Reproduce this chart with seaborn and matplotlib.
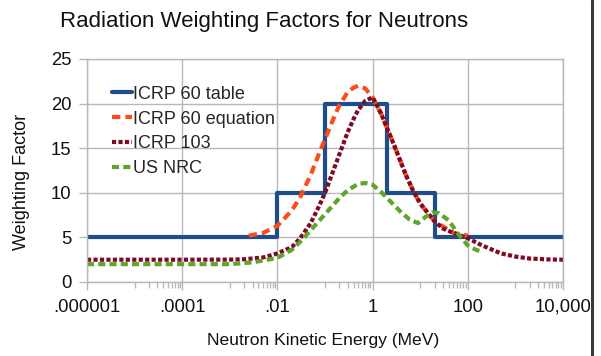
import numpy as np
import pandas as pd
import matplotlib
matplotlib.use("Agg")
import matplotlib.pyplot as plt
import seaborn as sns
from matplotlib.lines import Line2D
from matplotlib.patches import Rectangle
from matplotlib.ticker import NullFormatter

# ---------------- data ----------------
series_names = ["ICRP 60 table", "ICRP 60 equation", "ICRP 103", "US NRC"]

icrp60_table_E = [1e-6, 0.01, 0.01, 0.1, 0.1, 2, 2, 20, 20, 1e4]
icrp60_table_w = [5, 5, 10, 10, 20, 20, 10, 10, 5, 5]

icrp60_eq_E = [2.5e-3, 5e-3, 0.01, 0.02, 0.03, 0.05, 0.075, 0.1, 0.15,
               0.2, 0.3, 0.4, 0.5, 0.7, 1, 1.5, 2, 3, 5, 7, 10, 20, 50, 100]
icrp60_eq_w = [5.2, 5.5, 6.3, 8.0, 9.5, 12.0, 14.4, 16.0, 18.3,
               19.8, 21.3, 21.8, 22.0, 21.7, 20.7, 18.9, 17.3, 15.0, 12.0, 10.3, 8.8, 6.8, 5.5, 5.2]

icrp103_E = [1e-6, 1e-4, 1e-3, 2e-3, 5e-3, 0.01, 0.02, 0.03, 0.05, 0.075, 0.1, 0.15, 0.2, 0.3,
             0.4, 0.5, 0.7, 1, 1.5, 2, 3, 5, 7, 10, 20, 30, 50, 100, 200, 500, 1000, 2000, 5000, 1e4]
icrp103_w = [2.5, 2.5, 2.51, 2.55, 2.75, 3.2, 3.9, 4.9, 6.6, 8.5, 10.0, 12.5, 14.3, 16.8,
             18.3, 19.3, 20.3, 20.7, 18.9, 17.3, 15.0, 12.0, 10.3, 8.8, 6.8, 6.0, 5.5, 4.9, 4.1, 3.2, 2.85, 2.63, 2.53, 2.5]

nrc_E = [1e-6, 1e-5, 1e-4, 1e-3, 3e-3, 0.01, 0.02, 0.03, 0.05, 0.1, 0.2, 0.3, 0.5, 0.7,
         1.0, 1.5, 2.5, 4, 6, 9, 13, 18, 25, 40, 60, 100, 150, 200]
nrc_w = [2.0, 2.0, 2.0, 2.0, 2.2, 2.7, 3.6, 4.5, 5.8, 7.6, 9.4, 10.3, 11.0, 11.1,
         10.9, 10.1, 8.9, 7.8, 7.0, 6.6, 7.3, 7.8, 7.7, 6.9, 5.5, 4.1, 3.6, 3.4]

x_tick_values = [1e-6, 1e-4, 1e-2, 1, 100, 1e4]
x_tick_labels = [".000001", ".0001", ".01", "1", "100", "10,000"]
y_tick_values = [0, 5, 10, 15, 20, 25]

title_text = "Radiation Weighting Factors for Neutrons"
x_label = "Neutron Kinetic Energy (MeV)"
y_label = "Weighting Factor"

# ---------------- styling ----------------
colors = {"ICRP 60 table": "#1d4d8c", "ICRP 60 equation": "#ff4a1a",
          "ICRP 103": "#7e0a24", "US NRC": "#5fa52a"}
dash_styles = {"ICRP 60 table": "", "ICRP 60 equation": (2.0, 1.2),
               "ICRP 103": (1.0, 0.55), "US NRC": (1.7, 1.0)}

frames = []
for name, E, w in [(series_names[0], icrp60_table_E, icrp60_table_w),
                   (series_names[1], icrp60_eq_E, icrp60_eq_w),
                   (series_names[2], icrp103_E, icrp103_w),
                   (series_names[3], nrc_E, nrc_w)]:
    frames.append(pd.DataFrame({"E": E, "w": w, "series": name}))
df = pd.concat(frames, ignore_index=True)

sns.set_theme(style="white")
plt.rcParams["font.family"] = ["Liberation Sans", "DejaVu Sans"]

W, H = 601, 356
fig = plt.figure(figsize=(W / 100, H / 100), dpi=100)
ax = fig.add_axes([87 / W, (H - 282) / H, 476 / W, 223 / H])

grid_c = "#b8b8b8"
sns.lineplot(data=df, x="E", y="w", hue="series", style="series",
             hue_order=series_names, style_order=series_names,
             palette=colors, dashes=dash_styles, sort=False, estimator=None,
             linewidth=3.0, legend=False, ax=ax)

ax.set_xscale("log")
ax.set_xlim(1e-6, 1e4)
ax.set_ylim(0, 25)
ax.set_xticks(x_tick_values)
ax.set_xticklabels(x_tick_labels)
minor = [k * 10.0 ** p for p in (-5, -3, -1, 1, 3) for k in range(1, 10)]
ax.set_xticks(minor, minor=True)
ax.xaxis.set_minor_formatter(NullFormatter())
ax.set_yticks(y_tick_values)
ax.set_yticklabels([str(v) for v in y_tick_values])
ax.set_xlabel("")
ax.set_ylabel("")

ax.grid(True, which="major", color=grid_c, linewidth=1.0)
ax.set_axisbelow(True)
for s in ax.spines.values():
    s.set_visible(True)
    s.set_color(grid_c)
    s.set_linewidth(1.0)
ax.tick_params(axis="both", which="major", length=6, width=1.0, color=grid_c,
               labelsize=13.3, labelcolor="#111111", pad=5)
ax.tick_params(axis="x", which="minor", length=4, width=1.0, color=grid_c, bottom=True)
ax.tick_params(axis="x", which="major", bottom=True, pad=6)
ax.tick_params(axis="y", which="major", left=True)

handles = []
for n in series_names:
    h = Line2D([0], [0], color=colors[n], linewidth=3.0, linestyle="-")
    if dash_styles[n]:
        h.set_dashes(dash_styles[n])
    handles.append(h)
ax.legend(handles, series_names, loc="upper left", bbox_to_anchor=(0.052, 0.88),
          frameon=False, fontsize=13, handlelength=1.1, handletextpad=0.1,
          labelspacing=0.43, borderpad=0, borderaxespad=0)

fig.text(264 / W, 1 - 22 / H, title_text, ha="center", va="center", fontsize=16, color="#111111")
fig.text(323 / W, 1 - 340.7 / H, x_label, ha="center", va="center", fontsize=12.6, color="#111111")
fig.text(21.7 / W, 1 - 181.7 / H, y_label, ha="center", va="center", rotation=90,
         fontsize=13, color="#111111")

# screenshot edge at the right
fig.patches.append(Rectangle((590 / W, 0), 1 - 590 / W, 1, transform=fig.transFigure,
                             facecolor="white", edgecolor="none", zorder=20))
fig.lines.append(Line2D([592 / W, 592 / W], [0, 1], transform=fig.transFigure,
                        color="#3a3a3a", linewidth=2.2, zorder=21))

fig.savefig("out.png", dpi=100)
